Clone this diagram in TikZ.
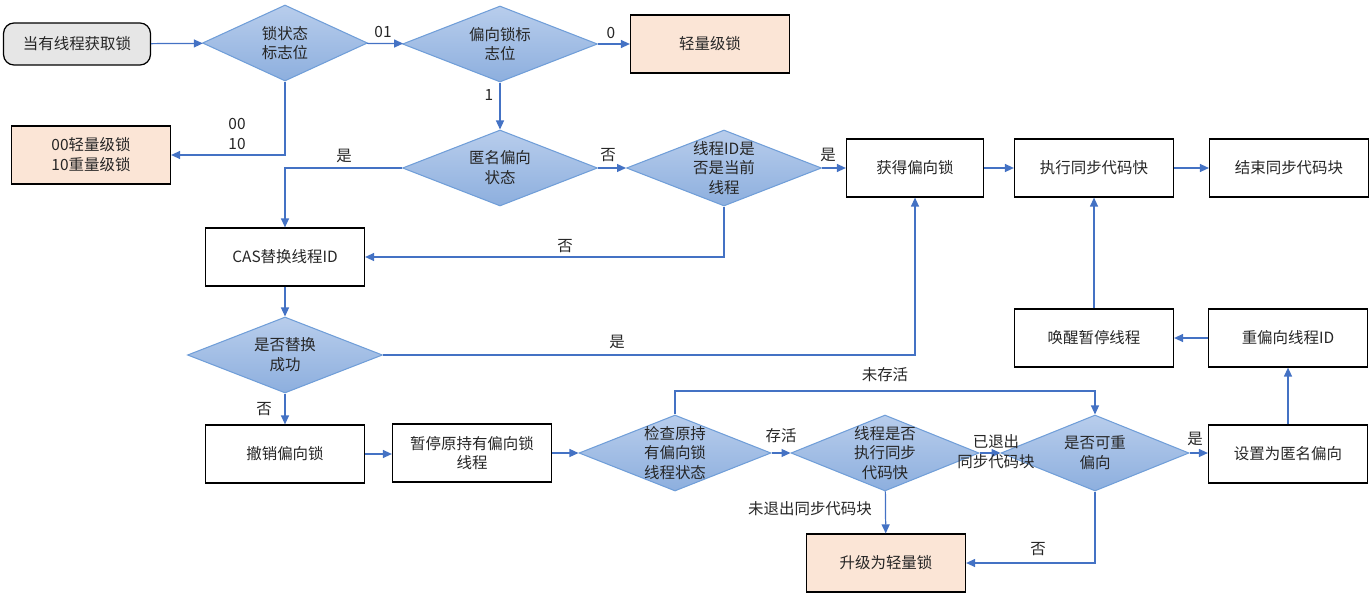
\documentclass[tikz,border=0pt]{standalone}
\usepackage{fontspec}
\setmainfont{Noto Sans CJK SC}
\usetikzlibrary{shapes.geometric,arrows.meta}

\definecolor{flowblue}{RGB}{68,114,196}
\definecolor{dtop}{RGB}{184,205,236}
\definecolor{dbot}{RGB}{141,175,222}
\definecolor{dedge}{RGB}{112,158,216}
\definecolor{peach}{RGB}{251,229,214}
\definecolor{startgray}{RGB}{230,230,230}
\definecolor{txt}{RGB}{38,38,38}

\begin{document}
\begin{tikzpicture}[x=0.02cm, y=-0.02cm,
    font=\fontsize{8.8pt}{11.3pt}\selectfont, text=txt,
    box/.style={draw=black, line width=0.7pt, minimum width=3.18cm, minimum height=1.16cm, align=center, inner sep=0pt},
    warm/.style={box, fill=peach},
    decide/.style={diamond, draw=dedge, line width=0.6pt, top color=dtop, bottom color=dbot, aspect=2.5, inner sep=-4pt, minimum width=3.9cm, minimum height=1.52cm, align=center},
    flow/.style={draw=flowblue, line width=0.7pt, -{Triangle[length=1.8mm,width=1.6mm]}},
    tag/.style={inner sep=1pt, align=center}
  ]
    % page size
    \useasboundingbox (0,0) rectangle (1372,598);

    % top row
    \node (start) at (77,44) [draw=black, line width=0.7pt, rounded corners=6pt, fill=startgray, minimum width=2.94cm, minimum height=0.84cm] {当有线程获取锁};
    \node (lockbits) at (285,43) [decide, minimum width=3.3cm] {锁状态\\标志位};
    \node (biasflag) at (500,44) [decide] {偏向锁标\\志位};
    \node (light) at (710,44) [warm] {轻量级锁};
    \node (heavy) at (91,155) [warm] {00轻量级锁\\10重量级锁};

    % second row
    \node (anon) at (500,168) [decide] {匿名偏向\\状态};
    \node (owner) at (724,168) [decide] {线程ID是\\否是当前\\线程};
    \node (getbias) at (915,168) [box, minimum width=2.74cm] {获得偏向锁};
    \node (exec) at (1094,168) [box] {执行同步代码快};
    \node (endsync) at (1289,168) [box] {结束同步代码块};

    % CAS part
    \node (cas) at (285,257) [box] {CAS替换线程ID};
    \node (succ) at (285,355) [decide] {是否替换\\成功};
    \node (wake) at (1094,338) [box] {唤醒暂停线程};
    \node (newid) at (1288,338) [box] {重偏向线程ID};

    % bottom row
    \node (revoke) at (285,454) [box] {撤销偏向锁};
    \node (pause) at (472,453) [box] {暂停原持有偏向锁\\线程};
    \node (check) at (675,453) [decide, minimum width=3.84cm] {检查原持\\有偏向锁\\线程状态};
    \node (alive) at (885,453) [decide, minimum width=3.76cm] {线程是否\\执行同步\\代码快};
    \node (rebias) at (1095,453) [decide, minimum width=3.76cm] {是否可重\\偏向};
    \node (setanon) at (1288,454) [box] {设置为匿名偏向};
    \node (upgrade) at (886,563) [warm] {升级为轻量锁};

    % connectors
    \draw [flow] (start) -- (lockbits);
    \draw [flow] (lockbits) -- (biasflag);
    \draw [flow] (biasflag) -- (light);
    \draw [flow] (biasflag) -- (anon);
    \draw [flow] (lockbits.south) |- (heavy.east);
    \draw [flow] (anon.west) -| (cas.north);
    \draw [flow] (anon) -- (owner);
    \draw [flow] (owner) -- (getbias);
    \draw [flow] (owner.south) |- (cas.east);
    \draw [flow] (getbias) -- (exec);
    \draw [flow] (exec) -- (endsync);
    \draw [flow] (cas) -- (succ);
    \draw [flow] (succ.east) -| (getbias.south);
    \draw [flow] (succ) -- (revoke);
    \draw [flow] (revoke.east) -- (pause.west |- revoke.east);
    \draw [flow] (pause) -- (check);
    \draw [flow] (check) -- (alive);
    \draw [flow] (alive) -- (rebias);
    \draw [flow] (alive) -- (upgrade);
    \coordinate (bend) at (675,391);
    \draw [flow] (check.north) -- (bend) -| (rebias.north);
    \draw [flow] (rebias.south) |- (upgrade.east);
    \draw [flow] (rebias.east) -- (setanon.west |- rebias.east);
    \draw [flow] (setanon) -- (newid);
    \draw [flow] (newid) -- (wake);
    \draw [flow] (wake) -- (exec);

    % connector labels
    \node (t01) at (383,32) [tag] {01};
    \node (t0) at (611,33) [tag] {0};
    \node (t1) at (489,95) [tag] {1};
    \node (t0010) at (237,134) [tag] {00\\10};
    \node (tyes1) at (344,156) [tag] {是};
    \node (tno1) at (608,155) [tag] {否};
    \node (tyes2) at (828,155) [tag] {是};
    \node (tno2) at (565,246) [tag] {否};
    \node (tyes3) at (617,342) [tag] {是};
    \node (tno3) at (264,409) [tag] {否};
    \node (tdead) at (885,375) [tag] {未存活};
    \node (tlive) at (781,436) [tag] {存活};
    \node (texit) at (996,452) [tag] {已退出\\同步代码块};
    \node (tstay) at (810,509) [tag] {未退出同步代码块};
    \node (tno4) at (1038,549) [tag] {否};
    \node (tyes4) at (1195,439) [tag] {是};
\end{tikzpicture}
\end{document}
